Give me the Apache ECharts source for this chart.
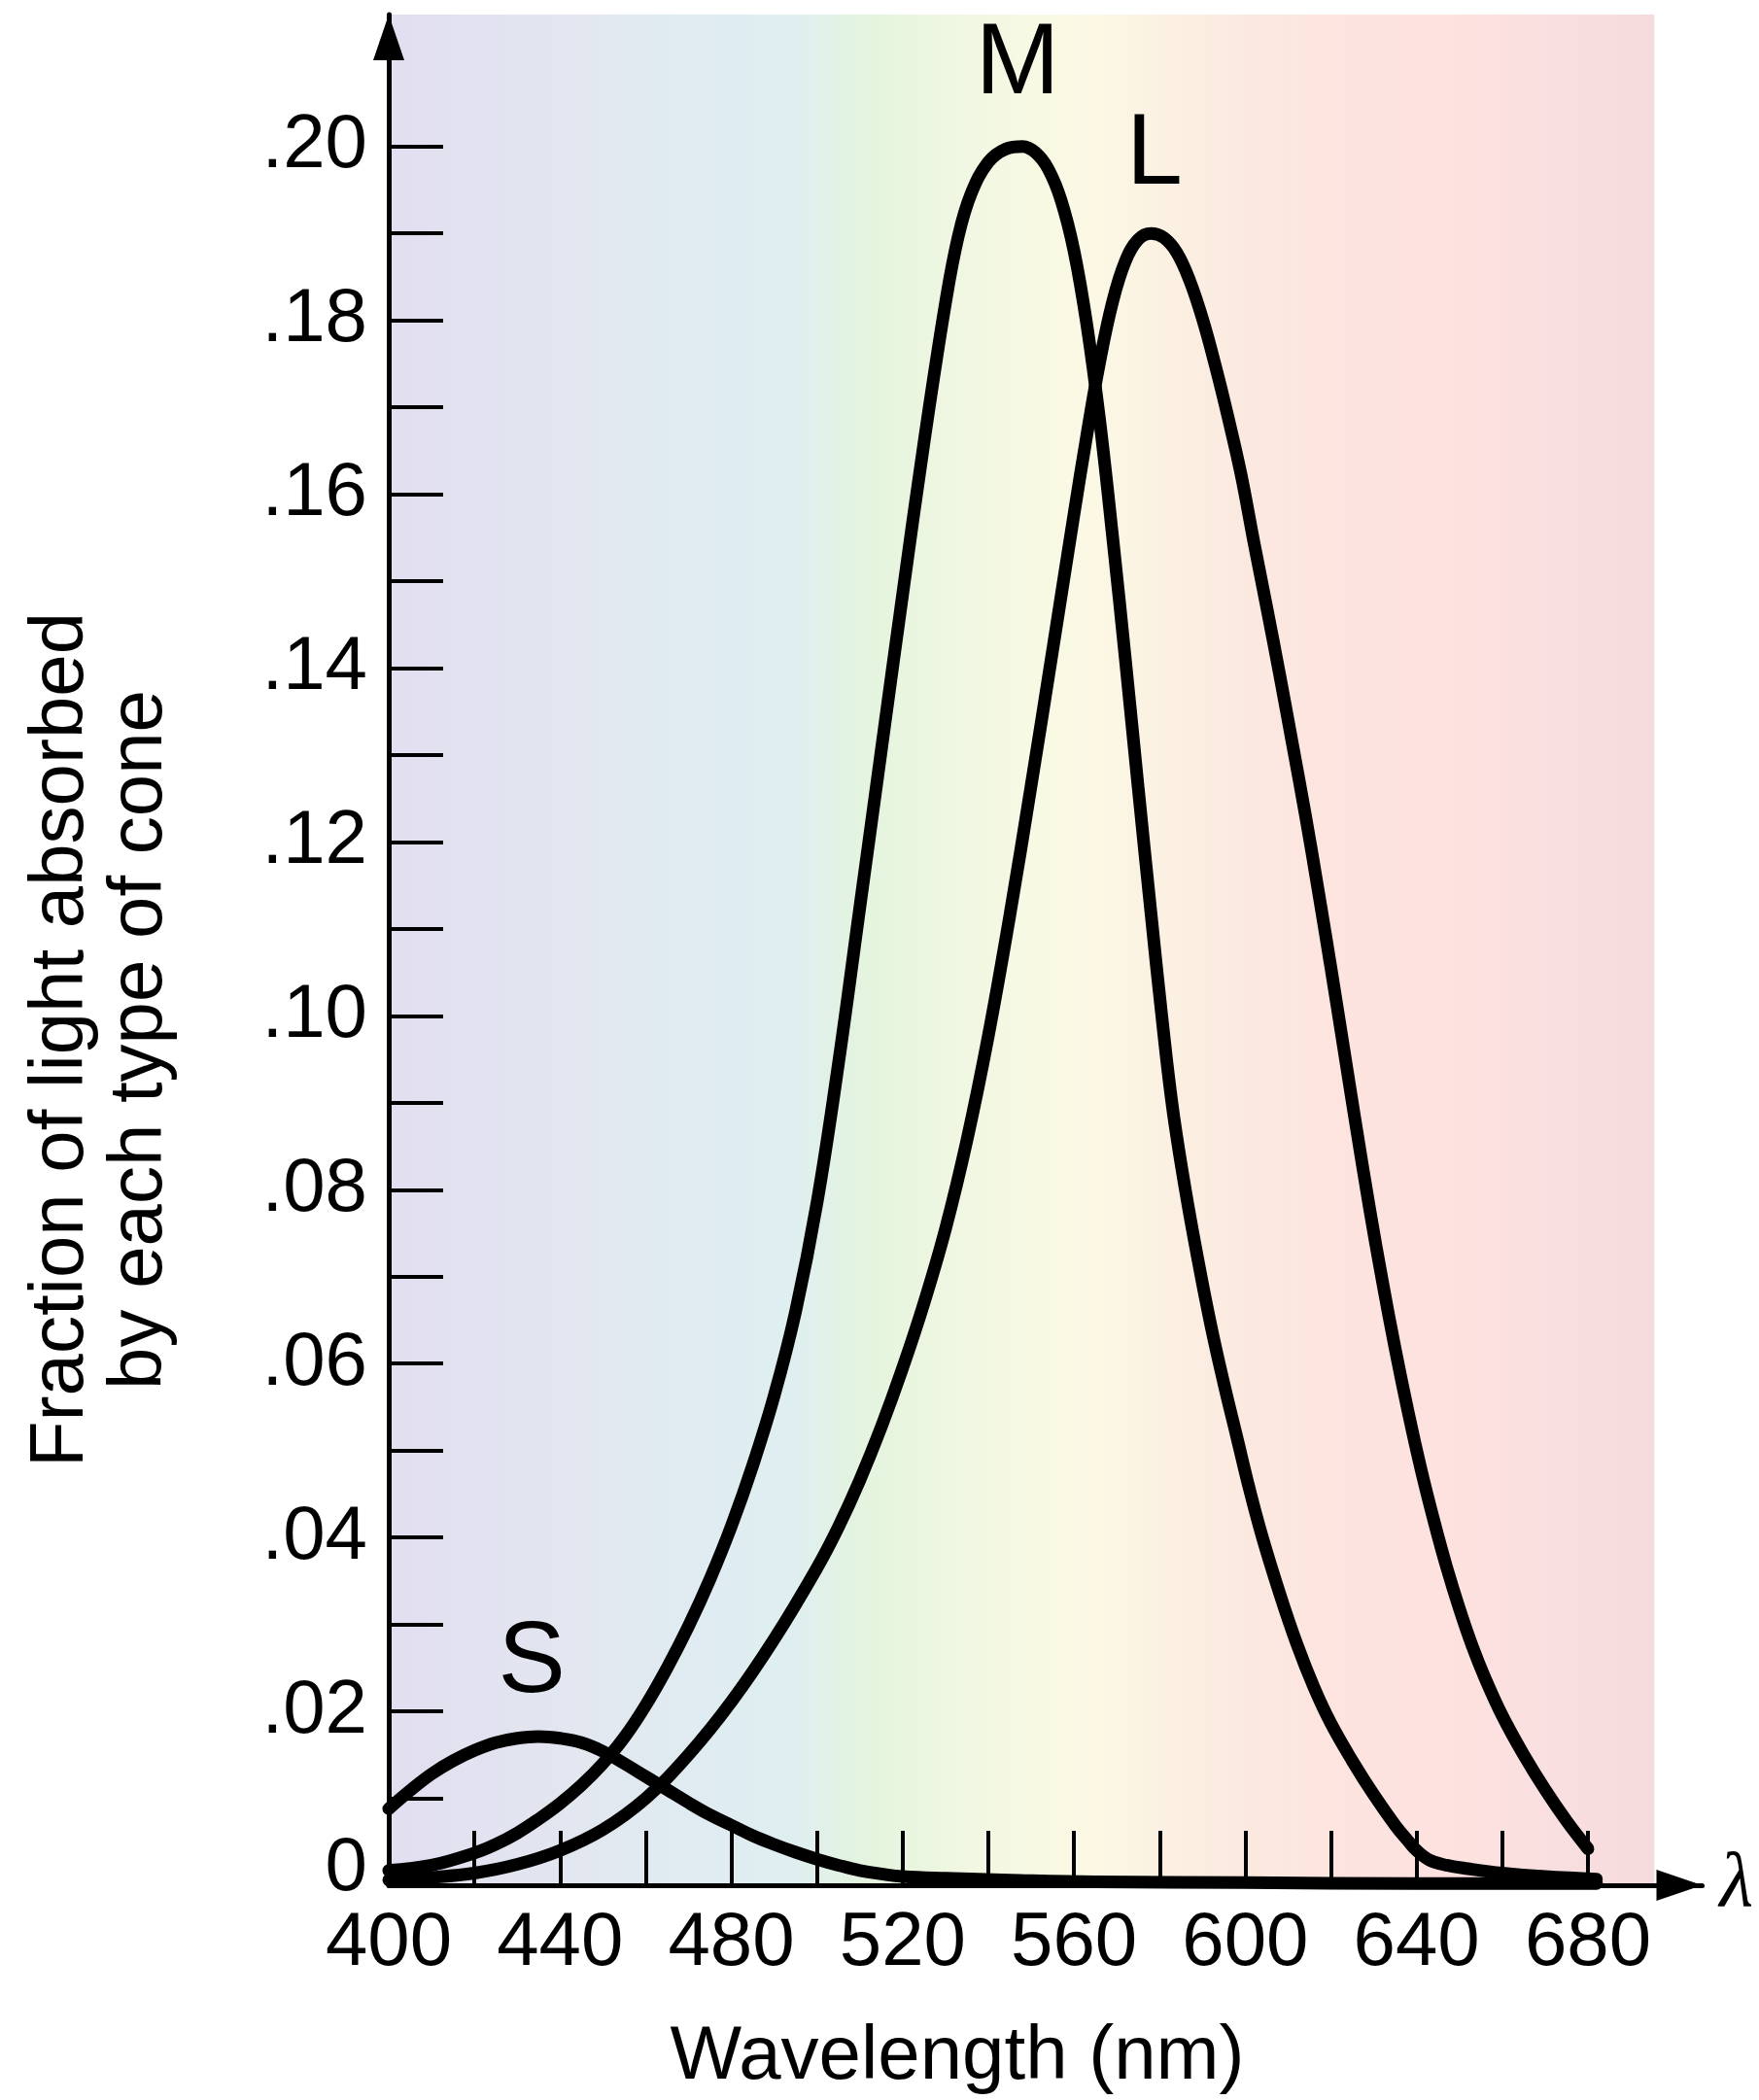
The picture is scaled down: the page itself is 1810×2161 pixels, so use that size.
<!DOCTYPE html>
<html>
<head>
<meta charset="utf-8">
<script src="https://cdn.jsdelivr.net/npm/echarts@6/dist/echarts.min.js"></script>
<style>
html,body{margin:0;padding:0;background:#ffffff;}
#chart{width:1810px;height:2161px;}
</style>
</head>
<body>
<div id="chart"></div>
<script>
// ---- data ----
const S_NM  = [400, 405, 410, 415, 420, 425, 430, 435, 440, 445, 450, 455, 460, 465, 470, 475, 480, 485, 490, 495, 500, 505, 510, 515, 520, 530, 545, 565, 600, 640, 682];
const S_VAL = [0.0088, 0.0109, 0.0128, 0.0143, 0.0155, 0.0164, 0.0169, 0.0171, 0.0169, 0.0164, 0.0154, 0.0140, 0.0125, 0.0110, 0.0095, 0.0081, 0.0069, 0.0057, 0.0047, 0.0038, 0.0030, 0.0023, 0.0017, 0.0013, 0.0010, 0.0008, 0.0006, 0.0004, 0.0003, 0.0002, 0.0002];

const M_NM  = [400, 410, 420, 425, 430, 435, 440, 445, 450, 455, 460, 465, 470, 475, 480, 485, 490, 495, 500, 505, 510, 515, 520, 525, 530, 533, 536, 540, 544, 548, 551, 554, 557, 560, 563, 566, 569, 572, 575, 578, 580.5, 583, 586, 589, 592, 595, 598, 601, 604, 608, 612, 616, 620, 625, 630, 635, 638, 640, 643, 647, 652, 660, 670, 682];
const M_VAL = [0.0017, 0.0023, 0.0037, 0.0047, 0.0060, 0.0076, 0.0094, 0.0115, 0.0140, 0.0170, 0.0207, 0.0250, 0.0298, 0.0352, 0.0413, 0.0483, 0.0563, 0.0660, 0.0785, 0.0945, 0.1125, 0.1305, 0.1485, 0.1660, 0.1820, 0.1897, 0.1946, 0.1982, 0.1997, 0.2000, 0.1993, 0.1974, 0.1938, 0.1880, 0.1795, 0.1685, 0.1552, 0.1410, 0.1262, 0.1117, 0.1000, 0.0895, 0.0800, 0.0718, 0.0643, 0.0577, 0.0516, 0.0455, 0.0400, 0.0336, 0.0278, 0.0228, 0.0186, 0.0143, 0.0104, 0.0069, 0.0051, 0.0040, 0.0029, 0.0023, 0.0019, 0.0014, 0.0010, 0.0007];

const L_NM  = [400, 410, 420, 430, 440, 450, 460, 470, 480, 490, 500, 505, 510, 515, 520, 525, 530, 535, 540, 545, 550, 555, 560, 563, 566, 569, 572, 575, 578, 581, 584, 587, 590, 593, 596, 599, 602, 605, 608, 611, 614, 617, 620, 623, 626, 629, 632, 635, 638, 641, 644, 647, 650, 653, 656, 660, 665, 670, 675, 680];
const L_VAL = [0.0006, 0.0009, 0.0014, 0.0024, 0.0040, 0.0064, 0.0100, 0.0150, 0.0211, 0.0283, 0.0365, 0.0412, 0.0466, 0.0527, 0.0595, 0.0670, 0.0755, 0.0857, 0.0977, 0.1115, 0.1265, 0.1420, 0.1577, 0.1668, 0.1752, 0.1821, 0.1868, 0.1893, 0.1900, 0.1895, 0.1878, 0.1846, 0.1802, 0.1748, 0.1688, 0.1623, 0.1545, 0.1470, 0.1393, 0.1313, 0.1232, 0.1145, 0.1055, 0.0962, 0.0869, 0.0779, 0.0695, 0.0617, 0.0545, 0.0479, 0.0420, 0.0366, 0.0318, 0.0275, 0.0238, 0.0195, 0.0150, 0.0110, 0.0074, 0.0042];

const X_TICKS  = [420, 440, 460, 480, 500, 520, 540, 560, 580, 600, 620, 640, 660, 680];
const X_LABELS = [400, 440, 480, 520, 560, 600, 640, 680];
const Y_TICKS  = [0, 0.01, 0.02, 0.03, 0.04, 0.05, 0.06, 0.07, 0.08, 0.09, 0.10, 0.11, 0.12, 0.13, 0.14, 0.15, 0.16, 0.17, 0.18, 0.19, 0.20];
const Y_LABEL_VALUES = [0, 0.02, 0.04, 0.06, 0.08, 0.10, 0.12, 0.14, 0.16, 0.18, 0.20];
const Y_LABEL_TEXT   = ['0', '.02', '.04', '.06', '.08', '.10', '.12', '.14', '.16', '.18', '.20'];

// curve name annotations (anchor in data coordinates)
const CURVE_NAMES = { S: [433.4, 0.0255], M: [546.8, 0.2093], L: [578.8, 0.1989] };

// axis ranges and spectrum band
const X_MIN = 400, X_MAX = 706.67;
const Y_MIN = 0, Y_MAX = 0.21517;
const BAND_START = 400, BAND_END = 695.5;

// ---- chart ----
const FONT = '"Liberation Sans", Arial, Helvetica, sans-serif';
const NARROW = '"Liberation Sans Narrow", "Arial Narrow", "Liberation Sans", Arial, sans-serif';
const chart = echarts.init(document.getElementById('chart'), null, { renderer: 'canvas' });

function pairs(xs, ys) { return xs.map((x, i) => [x, ys[i]]); }
function yLabel(val) {
  const i = Y_LABEL_VALUES.findIndex(v => Math.abs(v - val) < 1e-6);
  if (i < 0) return '';
  return i === 0 ? '{zero|' + Y_LABEL_TEXT[i] + '}' : Y_LABEL_TEXT[i];
}
function nameMark(key) {
  return {
    symbol: 'rect', symbolSize: 1, silent: true,
    itemStyle: { color: 'rgba(0,0,0,0)' },
    label: { show: true, position: 'inside', formatter: key, color: '#000', fontSize: 104, fontFamily: NARROW },
    data: [{ coord: CURVE_NAMES[key] }]
  };
}

const bandGradient = new echarts.graphic.LinearGradient(0, 0, 1, 0, [
  { offset: 0.000, color: '#e2dff0' },
  { offset: 0.085, color: '#e2e3f0' },
  { offset: 0.169, color: '#e2e8f0' },
  { offset: 0.254, color: '#dfecf2' },
  { offset: 0.321, color: '#dfeff0' },
  { offset: 0.355, color: '#e2f2e4' },
  { offset: 0.379, color: '#e4f4de' },
  { offset: 0.440, color: '#eef6e1' },
  { offset: 0.508, color: '#f7f9e3' },
  { offset: 0.558, color: '#fbf8e4' },
  { offset: 0.609, color: '#fbf1e2' },
  { offset: 0.677, color: '#fbe9e0' },
  { offset: 0.745, color: '#fde4df' },
  { offset: 0.829, color: '#fde2df' },
  { offset: 0.914, color: '#f9dfdf' },
  { offset: 1.000, color: '#f6dbdc' }
]);

const lineCommon = {
  type: 'line', symbol: 'none', showSymbol: false,
  smooth: 0.4, clip: false,
  lineStyle: { color: '#000', width: 13, cap: 'round', join: 'round' },
  emphasis: { disabled: true }, z: 3
};

const option = {
  animation: false,
  backgroundColor: '#ffffff',
  grid: { left: 400, right: 58.5, top: 15, bottom: 221, containLabel: false },
  xAxis: {
    type: 'value', min: X_MIN, max: X_MAX, z: 10,
    axisLine: { show: true, onZero: false, lineStyle: { color: '#000', width: 5 },
      symbol: ['none', 'triangle'], symbolSize: [32, 47], symbolOffset: [0, -23.5] },
    axisTick: { show: true, inside: true, length: 56, lineStyle: { color: '#000', width: 4 }, customValues: X_TICKS },
    axisLabel: { show: true, customValues: X_LABELS, color: '#000', fontSize: 78, fontFamily: FONT, margin: 21 },
    splitLine: { show: false },
    name: 'λ', nameLocation: 'end', nameGap: 18,
    nameTextStyle: { color: '#000', fontSize: 80, fontFamily: '"Liberation Serif", "DejaVu Serif", serif', fontStyle: 'italic', verticalAlign: 'middle', padding: [34, 0, 0, 0] }
  },
  yAxis: {
    type: 'value', min: Y_MIN, max: Y_MAX, z: 10,
    axisLine: { show: true, onZero: false, lineStyle: { color: '#000', width: 5 },
      symbol: ['none', 'triangle'], symbolSize: [32, 47], symbolOffset: [0, -23.5] },
    axisTick: { show: true, inside: true, length: 56, lineStyle: { color: '#000', width: 4 }, customValues: Y_TICKS },
    axisLabel: { show: true, customValues: Y_LABEL_VALUES, formatter: yLabel, color: '#000', fontSize: 78, fontFamily: FONT, margin: 22,
      rich: { zero: { fontSize: 78, fontFamily: FONT, color: '#000', padding: [0, 0, 34, 0] } } },
    splitLine: { show: false }
  },
  series: [
    Object.assign({}, lineCommon, {
      name: 'S', data: pairs(S_NM, S_VAL),
      markArea: { silent: true, z: 1, itemStyle: { color: bandGradient, borderWidth: 0 },
        data: [[{ xAxis: BAND_START, yAxis: Y_MIN }, { xAxis: BAND_END, yAxis: Y_MAX }]] },
      markPoint: nameMark('S')
    }),
    Object.assign({}, lineCommon, { name: 'M', data: pairs(M_NM, M_VAL), markPoint: nameMark('M') }),
    Object.assign({}, lineCommon, { name: 'L', data: pairs(L_NM, L_VAL), markPoint: nameMark('L') })
  ],
  graphic: [
    { type: 'text', x: 985, y: 2117, silent: true,
      style: { text: 'Wavelength (nm)', fontSize: 78, fontFamily: FONT, fill: '#000',
        align: 'center', verticalAlign: 'middle', textAlign: 'center', textVerticalAlign: 'middle' } },
    { type: 'text', x: 103.5, y: 1070, rotation: Math.PI / 2, silent: true,
      style: { text: 'Fraction of light absorbed\nby each type of cone', fontSize: 78, fontFamily: FONT, fill: '#000',
        lineHeight: 81, align: 'center', verticalAlign: 'middle', textAlign: 'center', textVerticalAlign: 'middle' } }
  ]
};
chart.setOption(option);
</script>
</body>
</html>
